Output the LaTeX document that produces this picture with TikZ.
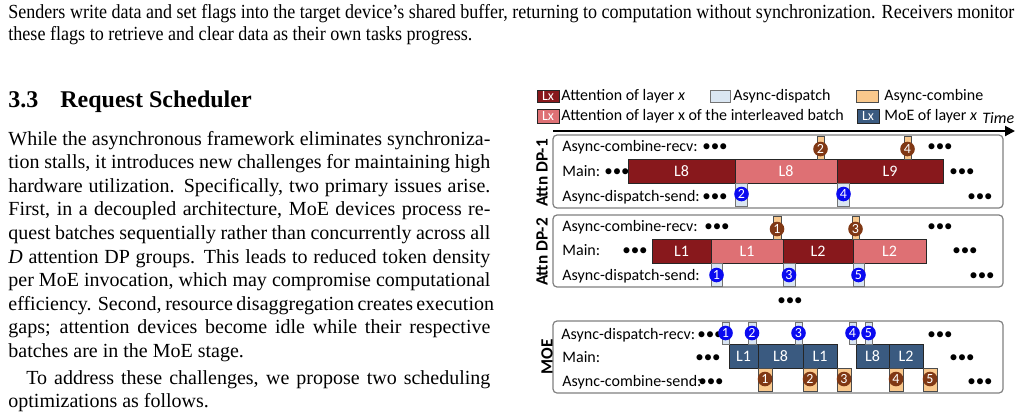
\documentclass[tikz,border=0pt]{standalone}
\usepackage{fontspec}
\usepackage{graphicx}
\setmainfont{Liberation Serif}
\newfontfamily\diaf{Carlito}
\usetikzlibrary{arrows.meta}
\definecolor{dkred}{RGB}{136,24,28}
\definecolor{pinkred}{RGB}{222,112,116}
\definecolor{lblue}{RGB}{218,230,242}
\definecolor{lorange}{RGB}{249,200,140}
\definecolor{brn}{RGB}{128,56,20}
\definecolor{moeblue}{RGB}{58,90,128}
\definecolor{pgray}{RGB}{128,128,128}
\definecolor{mkblue}{RGB}{10,10,240}
\tikzset{
  bodyl/.style={anchor=base west, inner sep=0, font=\fontsize{10}{12}\selectfont},
  headl/.style={anchor=base west, inner sep=0, font=\bfseries\fontsize{12}{14}\selectfont},
  lbl/.style={anchor=base west, inner sep=0, font=\diaf\fontsize{8}{9.6}\selectfont},
  dts/.style={anchor=base, inner sep=0, font=\diaf\fontsize{8.5}{9.6}\selectfont},
  vlab/.style={rotate=90, inner sep=0, font=\diaf\bfseries\fontsize{8.6}{10}\selectfont},
  panel/.style={draw=pgray, line width=0.6pt, rounded corners=2pt},
  mbar/.style={draw=black!85, line width=0.5pt, inner sep=0, outer sep=0, anchor=north west, text=white, font=\diaf\fontsize{8}{9.6}\selectfont},
  att/.style={mbar, fill=dkred},
  itl/.style={mbar, fill=pinkred},
  moe/.style={mbar, fill=moeblue},
  dsp/.style={draw=black!55, line width=0.4pt, fill=lblue, inner sep=0, outer sep=0, anchor=north west},
  cmb/.style={draw=black!70, line width=0.4pt, fill=lorange, inner sep=0, outer sep=0, anchor=north west},
  swt/.style={mbar, font=\diaf\fontsize{7}{8}\selectfont},
  bnum/.style={circle, fill=mkblue, text=white, inner sep=0, minimum size=7.3pt, font=\diaf\fontsize{7}{7}\selectfont},
  onum/.style={circle, fill=brn, text=white, inner sep=0, minimum size=7.3pt, font=\diaf\fontsize{7}{7}\selectfont},
}
\newcommand\mybox[7]{\node[#1, minimum width={0.5pt*(#5-#3)}, minimum height={0.5pt*(#6-#4)}] (#2) at (#3,#4) {#7};}
\begin{document}
\begin{tikzpicture}[x=0.5pt,y=-0.5pt]
\useasboundingbox (0,0) rectangle (1022,418);
% ---------- text ----------
\node[bodyl] (c1) at (8,18) {\resizebox{503pt}{\height}{Senders write data and set flags into the target device's shared buffer, returning to computation without synchronization. Receivers monitor}};
\node[bodyl] (c2) at (8,40) {\resizebox{232pt}{\height}{these flags to retrieve and clear data as their own tasks progress.}};
\node[headl] (h1) at (8,107) {3.3};
\node[headl] (h2) at (60,107) {Request Scheduler};
\node[bodyl] (b1) at (8,145) {\hbox to 241pt{While the asynchronous framework eliminates synchroniza-}};
\node[bodyl] (b2) at (8,168.6) {\hbox to 241pt{tion stalls, it introduces new challenges for maintaining high}};
\node[bodyl] (b3) at (8,192.2) {\hbox to 241pt{hardware utilization. Specifically, two primary issues arise.}};
\node[bodyl] (b4) at (8,215.8) {\hbox to 241pt{First, in a decoupled architecture, MoE devices process re-}};
\node[bodyl] (b5) at (8,239.4) {\hbox to 241pt{quest batches sequentially rather than concurrently across all}};
\node[bodyl] (b6) at (8,263) {\hbox to 241pt{\textit{D} attention DP groups. This leads to reduced token density}};
\node[bodyl] (b7) at (8,286.6) {\hbox to 241pt{per MoE invocation, which may compromise computational}};
\node[bodyl] (b8) at (8,310.2) {\hbox to 241pt{efficiency. Second, resource disaggregation creates execution}};
\node[bodyl] (b9) at (8,333.8) {\hbox to 241pt{gaps; attention devices become idle while their respective}};
\node[bodyl] (b10) at (8,357.4) {batches are in the MoE stage.};
\node[bodyl] (b11) at (8,384) {\hbox to 241pt{\hspace*{9pt}To address these challenges, we propose two scheduling}};
\node[bodyl] (b12) at (8,407.6) {optimizations as follows.};
% ---------- legend ----------
\mybox{swt,fill=dkred}{lg1}{537}{90}{559}{102}{Lx}
\node[lbl] (lt1) at (561,100) {Attention of layer \textit{x}};
\mybox{dsp}{lg2}{710}{90}{730}{102}{}
\node[lbl] (lt2) at (733,100) {Async-dispatch};
\mybox{cmb}{lg3}{856}{90}{878}{102}{}
\node[lbl] (lt3) at (884,100) {Async-combine};
\mybox{swt,fill=pinkred}{lg4}{537}{109}{559}{123}{Lx}
\node[lbl] (lt4) at (561,120) {Attention of layer x of the interleaved batch};
\mybox{swt,fill=moeblue}{lg5}{857}{109}{879}{123}{Lx}
\node[lbl] (lt5) at (884,120) {MoE of layer \textit{x}};
\node[lbl] (tm) at (982,123) {\textit{Time}};
\coordinate (ta) at (553,131);
\coordinate (tb) at (1015,131);
\draw[line width=1pt, -{Triangle[length=5pt,width=5pt]}] (ta) -- (tb);
% ---------- panel 1 ----------
\draw[panel] (553,135) rectangle (1003,208);
\node[vlab] (v1) at (542,173) {Attn DP-1};
\node[lbl] (p1a) at (562,151) {Async-combine-recv:};
\node[lbl] (p1b) at (562,176) {Main:};
\node[lbl] (p1c) at (562,201) {Async-dispatch-send:};
\node[dts] (p1d1) at (715,151) {•••};
\node[dts] (p1d2) at (940,151) {•••};
\node[dts] (p1d3) at (617,176) {•••};
\node[dts] (p1d4) at (962,176) {•••};
\node[dts] (p1d5) at (715,201) {•••};
\node[dts] (p1d6) at (980,201) {•••};
\mybox{att}{p1m1}{628}{159}{735}{183}{L8}
\mybox{itl}{p1m2}{735}{159}{837}{183}{L8}
\mybox{att}{p1m3}{837}{159}{943}{183}{L9}
\mybox{cmb}{p1c2r}{817}{136}{824}{159}{}
\node[onum] (p1c2) at (820.5,149) {2};
\mybox{cmb}{p1c4r}{904}{136}{911}{159}{}
\node[onum] (p1c4) at (907.5,149) {4};
\mybox{dsp}{p1s2r}{735}{183}{747}{206}{}
\node[bnum] (p1s2) at (741.5,194) {2};
\mybox{dsp}{p1s4r}{837}{183}{849}{206}{}
\node[bnum] (p1s4) at (843.5,194) {4};
% ---------- panel 2 ----------
\draw[panel] (553,215) rectangle (1003,287);
\node[vlab] (v2) at (542,252) {Attn DP-2};
\node[lbl] (p2a) at (562,231) {Async-combine-recv:};
\node[lbl] (p2b) at (562,255) {Main:};
\node[lbl] (p2c) at (562,280) {Async-dispatch-send:};
\node[dts] (p2d1) at (717,231) {•••};
\node[dts] (p2d2) at (940,231) {•••};
\node[dts] (p2d3) at (635,255) {•••};
\node[dts] (p2d4) at (965,255) {•••};
\node[dts] (p2d6) at (982,280) {•••};
\mybox{att}{p2m1}{652}{239}{711}{263}{L1}
\mybox{itl}{p2m2}{711}{239}{783}{263}{L1}
\mybox{att}{p2m3}{783}{239}{853}{263}{L2}
\mybox{itl}{p2m4}{853}{239}{926}{263}{L2}
\mybox{cmb}{p2c1r}{773}{216}{781}{239}{}
\node[onum] (p2c1) at (777,229) {1};
\mybox{cmb}{p2c3r}{852}{216}{859}{239}{}
\node[onum] (p2c3) at (855.5,229) {3};
\mybox{dsp}{p2s1r}{711}{263}{722}{286}{}
\node[bnum] (p2s1) at (716.5,275) {1};
\mybox{dsp}{p2s3r}{783}{263}{795}{286}{}
\node[bnum] (p2s3) at (789,275) {3};
\mybox{dsp}{p2s5r}{853}{263}{864}{286}{}
\node[bnum] (p2s5) at (858.5,275) {5};
% ---------- middle dots ----------
\node[dts] (mid) at (790,305) {•••};
% ---------- panel 3 ----------
\draw[panel] (553,321) rectangle (1003,393);
\node[vlab] (v3) at (547,357) {MOE};
\node[lbl] (p3a) at (561,339) {Async-dispatch-recv:};
\node[lbl] (p3b) at (562,362) {Main:};
\node[lbl] (p3c) at (562,386) {Async-combine-send:};
\node[dts] (p3d1) at (710,339) {•••};
\node[dts] (p3d2) at (940,339) {•••};
\node[dts] (p3d3) at (708,362) {•••};
\node[dts] (p3d4) at (962,362) {•••};
\node[dts] (p3d5) at (711,386) {•••};
\node[dts] (p3d6) at (980,386) {•••};
\mybox{moe}{p3m1}{729}{344}{758}{368}{L1}
\mybox{moe}{p3m2}{758}{344}{803}{368}{L8}
\mybox{moe}{p3m3}{803}{344}{837}{368}{L1}
\mybox{moe}{p3m4}{856}{344}{889}{368}{L8}
\mybox{moe}{p3m5}{889}{344}{923}{368}{L2}
\mybox{dsp}{p3r1r}{722}{322}{729}{344}{}
\node[bnum] (p3r1) at (725.5,333) {1};
\mybox{dsp}{p3r2r}{748}{322}{756}{344}{}
\node[bnum] (p3r2) at (752,333) {2};
\mybox{dsp}{p3r3r}{795}{322}{802}{344}{}
\node[bnum] (p3r3) at (798.5,333) {3};
\mybox{dsp}{p3r4r}{849}{322}{856}{344}{}
\node[bnum] (p3r4) at (852.5,333) {4};
\mybox{dsp}{p3r5r}{865}{322}{872}{344}{}
\node[bnum] (p3r5) at (868.5,333) {5};
\mybox{cmb}{p3s1r}{758}{368}{772}{391}{}
\node[onum] (p3s1) at (765,379) {1};
\mybox{cmb}{p3s2r}{803}{368}{817}{391}{}
\node[onum] (p3s2) at (810,379) {2};
\mybox{cmb}{p3s3r}{837}{368}{851}{391}{}
\node[onum] (p3s3) at (844,379) {3};
\mybox{cmb}{p3s4r}{889}{368}{903}{391}{}
\node[onum] (p3s4) at (896,379) {4};
\mybox{cmb}{p3s5r}{923}{368}{937}{391}{}
\node[onum] (p3s5) at (930,379) {5};
\end{tikzpicture}
\end{document}
